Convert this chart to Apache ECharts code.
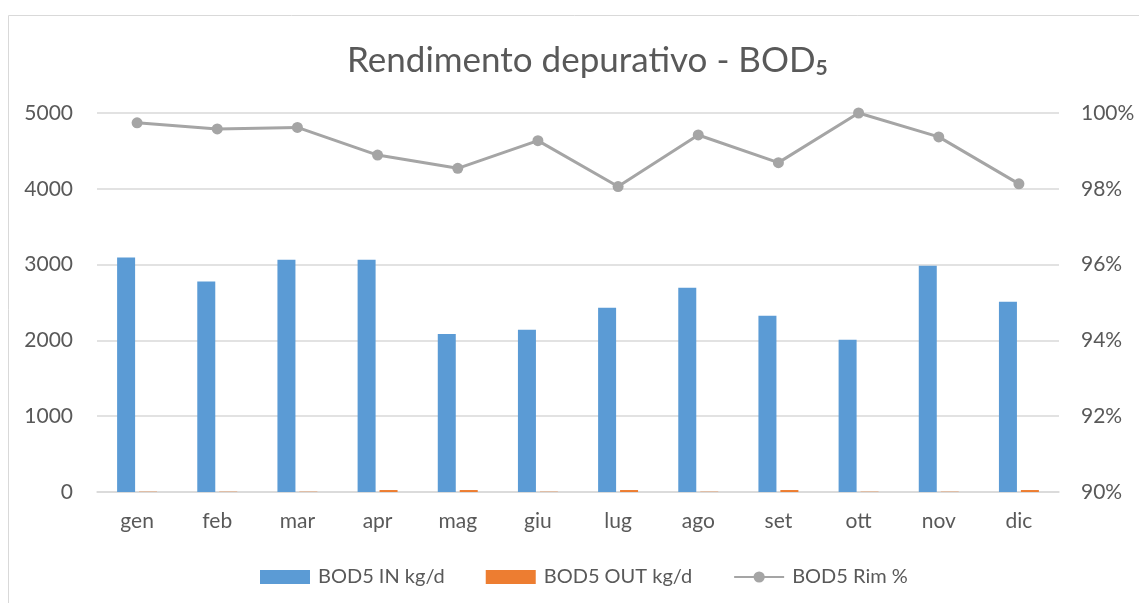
<!DOCTYPE html>
<html>
<head>
<meta charset="utf-8">
<script src="https://cdn.jsdelivr.net/npm/echarts@6/dist/echarts.min.js"></script>
<style>
  html, body { margin: 0; padding: 0; background: #fff; }
  #chart { width: 1139px; height: 603px; }
</style>
</head>
<body>
<div id="chart"></div>
<script>
  // mesi
  var months = ['gen', 'feb', 'mar', 'apr', 'mag', 'giu', 'lug', 'ago', 'set', 'ott', 'nov', 'dic']
  var bodIn = [3095, 2776, 3064, 3064, 2086, 2139, 2430, 2694, 2324, 2007, 2985, 2509]
  var bodOut = [4, 4, 4, 26, 26, 4, 26, 4, 26, 4, 4, 26]
  var bodRim = [99.74, 99.58, 99.62, 98.89, 98.54, 99.27, 98.06, 99.42, 98.69, 100.0, 99.37, 98.13]

  var textColor = '#595959'
  var gridColor = '#D9D9D9'
  var font = 'Lato'

  var chart = echarts.init(document.getElementById('chart'))

  var option = {
    color: ['#5B9BD5', '#ED7D31', '#A5A5A5'],
    textStyle: { fontFamily: font },
    graphic: [{
      type: 'rect',
      shape: { x: 8.5, y: 15.5, width: 1200, height: 700 },
      style: { fill: 'none', stroke: gridColor, lineWidth: 1 },
      silent: true,
      z: -1
    }],
    title: {
      text: '{t|Rendimento depurativo - BOD}{s|5}',
      left: 342,
      top: 37,
      textStyle: {
        rich: {
          t: { fontFamily: font, fontSize: 35, color: textColor, fontWeight: 'normal' },
          s: { fontFamily: font, fontSize: 21, color: textColor, verticalAlign: 'bottom', padding: [16, 0, 0, 0] }
        }
      }
    },
    legend: {
      bottom: 11,
      left: 255,
      itemWidth: 50,
      itemHeight: 14,
      itemGap: 41,
      textStyle: { fontFamily: font, fontSize: 20, color: textColor, padding: [0, 0, 0, 3] },
      data: [
        { name: 'BOD5 IN kg/d', icon: 'rect' },
        { name: 'BOD5 OUT kg/d', icon: 'rect' },
        { name: 'BOD5 Rim %' }
      ]
    },
    grid: {
      left: 97,
      right: 80,
      top: 113,
      bottom: 111,
      containLabel: false
    },
    xAxis: {
      type: 'category',
      data: months,
      axisLine: { lineStyle: { color: gridColor, width: 1.5 } },
      axisTick: { show: false },
      axisLabel: { color: textColor, fontSize: 21, fontFamily: font, margin: 19 }
    },
    yAxis: [{
      type: 'value',
      min: 0,
      max: 5000,
      interval: 1000,
      axisLine: { show: false },
      axisTick: { show: false },
      axisLabel: { color: textColor, fontSize: 21, fontFamily: font, margin: 24, formatter: function (v) { return String(v) } },
      splitLine: { lineStyle: { color: gridColor, width: 1.5 } }
    }, {
      type: 'value',
      min: 90,
      max: 100,
      interval: 2,
      axisLine: { show: false },
      axisTick: { show: false },
      axisLabel: { color: textColor, fontSize: 21, fontFamily: font, margin: 22, formatter: '{value}%' },
      splitLine: { show: false }
    }],
    series: [{
      name: 'BOD5 IN kg/d',
      type: 'bar',
      barWidth: 18,
      barGap: '22%',
      data: bodIn
    }, {
      name: 'BOD5 OUT kg/d',
      type: 'bar',
      barWidth: 18,
      data: bodOut
    }, {
      name: 'BOD5 Rim %',
      type: 'line',
      yAxisIndex: 1,
      symbol: 'circle',
      symbolSize: 11,
      lineStyle: { width: 3 },
      data: bodRim
    }]
  }

  chart.setOption(option)
</script>
</body>
</html>
